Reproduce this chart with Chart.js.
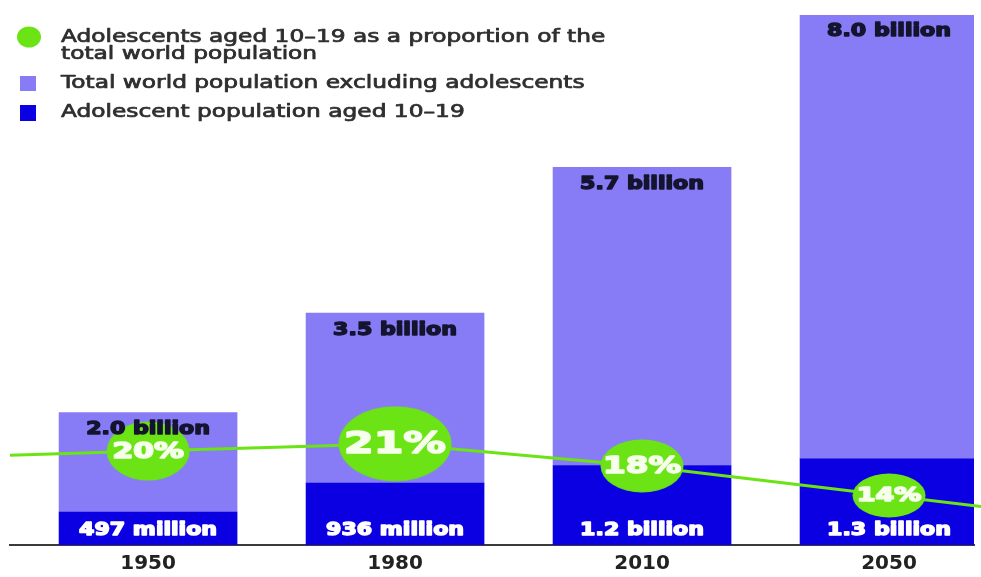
<!DOCTYPE html>
<html>
<head>
<meta charset="utf-8">
<script src="https://cdn.jsdelivr.net/npm/chart.js@4.4.0/dist/chart.umd.min.js"></script>
<style>
  html, body { margin: 0; padding: 0; background: #fff; overflow: hidden; }
  #wrap { position: relative; width: 981px; height: 577px; }
</style>
</head>
<body>
<div id="wrap"><canvas id="popChart"></canvas></div>
<script>
const years = ['1950', '1980', '2010', '2050'];
const totalPop = [2.0, 3.5, 5.7, 8.0];          // billions
const adolescentPop = [0.497, 0.936, 1.2, 1.3]; // billions, aged 10-19
const adolescentShare = [20, 21, 18, 14];       // % of world population

// bubble size and label size for each year
const bubbleW = [84, 114, 84, 74];
const bubbleH = [60, 76, 54, 45];
const bubbleFont = [21, 30, 23, 19];

const otherPop = totalPop.map((t, i) => +(t - adolescentPop[i]).toFixed(3));

const GREEN = '#6be314';
const LIGHT = '#877cf6';
const DARK = '#0b00e2';

function fmtPop(v) {
  return v < 1 ? Math.round(v * 1000) + ' million' : v.toFixed(1) + ' billion';
}

function ellipse(w, h) {
  const c = document.createElement('canvas');
  c.width = w;
  c.height = h;
  const g = c.getContext('2d');
  g.fillStyle = GREEN;
  g.beginPath();
  g.ellipse(w / 2, h / 2, w / 2 - 0.5, h / 2 - 0.5, 0, 0, Math.PI * 2);
  g.fill();
  return c;
}

// the poster face is wider and heavier than DejaVu: stretch it and thicken it
function wideText(ctx, text, x, y, font, color, sx, heavy, align) {
  ctx.save();
  ctx.font = font;
  ctx.fillStyle = color;
  ctx.strokeStyle = color;
  ctx.lineJoin = 'round';
  ctx.textAlign = align || 'center';
  ctx.textBaseline = 'middle';
  ctx.translate(x, y);
  ctx.scale(sx, 1);
  if (heavy) {
    ctx.lineWidth = heavy;
    ctx.strokeText(text, 0, 0);
  }
  ctx.fillText(text, 0, 0);
  ctx.restore();
}

// carry the green line out to both edges of the canvas
const lineEnds = {
  id: 'lineEnds',
  beforeDatasetDraw(chart, args) {
    if (args.index !== 2) return;
    const pts = args.meta.data;
    const area = chart.chartArea;
    const ctx = chart.ctx;
    const a = pts[0], b = pts[1];
    const c = pts[pts.length - 2], d = pts[pts.length - 1];
    const right = chart.width;
    const yl = a.y - (b.y - a.y) / (b.x - a.x) * (a.x - area.left);
    const yr = d.y + (d.y - c.y) / (d.x - c.x) * (right - d.x);
    ctx.save();
    ctx.strokeStyle = GREEN;
    ctx.lineWidth = 3;
    ctx.beginPath();
    ctx.moveTo(area.left, yl);
    ctx.lineTo(a.x, a.y);
    ctx.moveTo(d.x, d.y);
    ctx.lineTo(right, yr);
    ctx.stroke();
    ctx.restore();
  }
};

const barLabels = {
  id: 'barLabels',
  afterDatasetsDraw(chart) {
    const ctx = chart.ctx;
    const low = chart.getDatasetMeta(0).data;
    const high = chart.getDatasetMeta(1).data;
    const pts = chart.getDatasetMeta(2).data;
    const base = chart.scales.y.getPixelForValue(0);
    const f = 'bold 17px "DejaVu Sans"';
    low.forEach((bar, i) => {
      wideText(ctx, fmtPop(adolescentPop[i]), bar.x, base - 14, f, '#ffffff', 1.3, 1.4);
      wideText(ctx, fmtPop(totalPop[i]), bar.x, high[i].y + 17, f, '#14142e', 1.3, 1.4);
      wideText(ctx, adolescentShare[i] + '%', pts[i].x, pts[i].y + 1,
        'bold ' + bubbleFont[i] + 'px "DejaVu Sans"', '#f6ffec', 1.42, 1.6);
    });
  }
};

// key in the top left, built from the dataset labels
const keyBox = {
  id: 'keyBox',
  afterDraw(chart) {
    const ctx = chart.ctx;
    const ds = chart.data.datasets;
    const f = '17px "DejaVu Sans"';
    const sx = 1.37;
    const tx = 61;
    const ink = '#2e2e2e';
    ctx.save();
    ctx.font = f;
    // proportion line: wrap to two lines
    const words = ds[2].label.split(' ');
    const lines = [''];
    words.forEach(w => {
      const cur = lines[lines.length - 1];
      const next = cur ? cur + ' ' + w : w;
      if (ctx.measureText(next).width * sx > 555) lines.push(w);
      else lines[lines.length - 1] = next;
    });
    ctx.restore();

    ctx.save();
    ctx.fillStyle = GREEN;
    ctx.beginPath();
    ctx.ellipse(29, 37, 12, 10.5, 0, 0, Math.PI * 2);
    ctx.fill();
    ctx.fillStyle = LIGHT;
    ctx.fillRect(20, 76, 16, 15);
    ctx.fillStyle = DARK;
    ctx.fillRect(20, 105, 16, 16);
    ctx.restore();

    lines.forEach((l, k) => wideText(ctx, l, tx, 38 + k * 17, f, ink, sx, 0.7, 'left'));
    wideText(ctx, ds[1].label, tx, 84, f, ink, sx, 0.7, 'left');
    wideText(ctx, ds[0].label, tx, 113, f, ink, sx, 0.7, 'left');
  }
};

const ctx = document.getElementById('popChart').getContext('2d');

const chart = new Chart(ctx, {
  data: {
    datasets: [
      {
        type: 'bar',
        label: 'Adolescent population aged 10–19',
        data: adolescentPop.map((v, i) => ({ x: i, y: v })),
        backgroundColor: DARK,
        stack: 'pop',
        barThickness: 178,
        order: 1
      },
      {
        type: 'bar',
        label: 'Total world population excluding adolescents',
        data: otherPop.map((v, i) => ({ x: i, y: v })),
        backgroundColor: LIGHT,
        stack: 'pop',
        barThickness: 178,
        order: 1
      },
      {
        type: 'line',
        label: 'Adolescents aged 10–19 as a proportion of the total world population',
        data: adolescentShare.map((v, i) => ({ x: i, y: v })),
        yAxisID: 'y2',
        borderColor: GREEN,
        borderWidth: 3,
        tension: 0,
        pointStyle: bubbleW.map((w, i) => ellipse(w, bubbleH[i])),
        clip: false,
        order: 0
      }
    ]
  },
  options: {
    responsive: true,
    maintainAspectRatio: false,
    animation: false,
    layout: { padding: { left: 10, right: 0, top: 15, bottom: -6 } },
    plugins: {
      legend: { display: false },
      tooltip: { enabled: false }
    },
    scales: {
      x: {
        type: 'linear',
        offset: false,
        min: -0.559,
        max: 3.344,
        stacked: true,
        grid: { display: false, drawTicks: false },
        border: { display: true, color: '#3a3a3a', width: 2 },
        // one tick per year, nothing at the ends
        afterBuildTicks: axis => {
          axis.ticks = years.map((y, i) => ({ value: i }));
        },
        ticks: {
          autoSkip: false,
          maxRotation: 0,
          padding: 7,
          color: '#222',
          font: { family: 'DejaVu Sans', size: 20, weight: 'bold' },
          callback: v => years[v] || ''
        }
      },
      y: {
        display: false,
        stacked: true,
        min: 0,
        max: 8
      },
      y2: {
        display: false,
        min: 7.3,
        max: 79
      }
    }
  },
  plugins: [lineEnds, barLabels, keyBox]
});
</script>
</body>
</html>
